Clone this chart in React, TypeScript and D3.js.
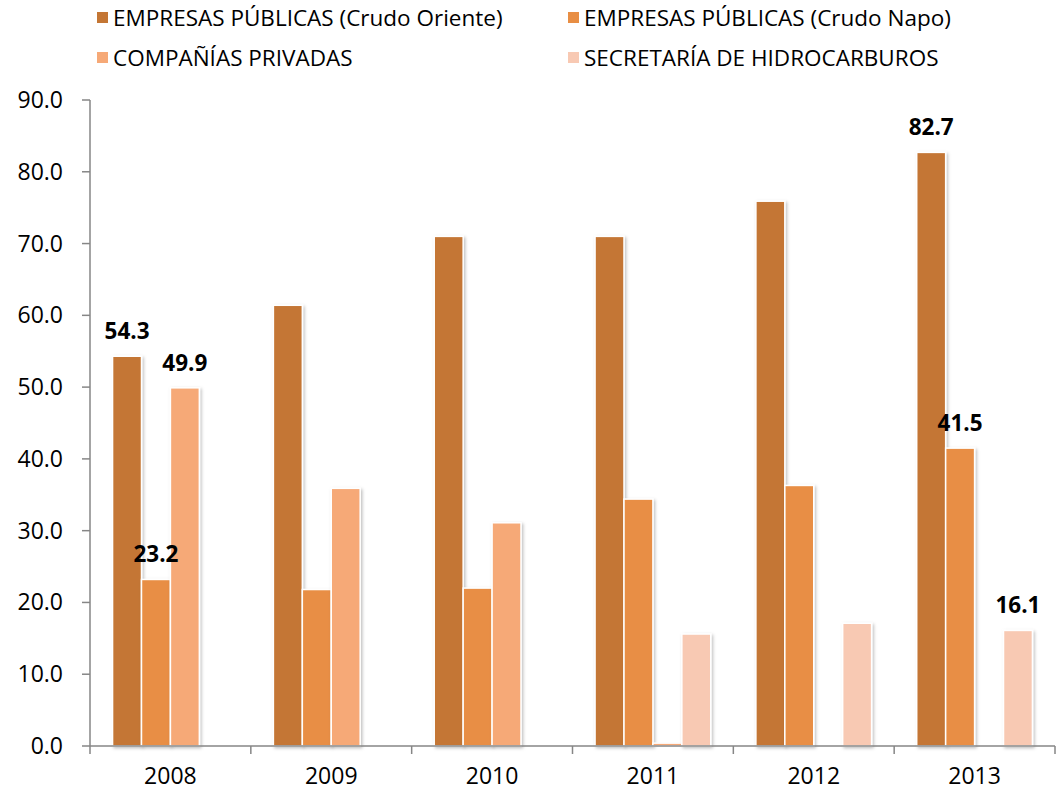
import React from "react";
import * as d3 from "d3";

const years = ["2008", "2009", "2010", "2011", "2012", "2013"];
const seriesNames = [
  "EMPRESAS PÚBLICAS (Crudo Oriente)",
  "EMPRESAS PÚBLICAS (Crudo Napo)",
  "COMPAÑÍAS PRIVADAS",
  "SECRETARÍA DE HIDROCARBUROS",
];
const crudoOriente = [54.3, 61.4, 71.0, 71.0, 75.9, 82.7];
const crudoNapo = [23.2, 21.8, 22.0, 34.4, 36.3, 41.5];
const privadas = [49.9, 35.9, 31.1, 0.4, 0, 0];
const secretaria = [0, 0, 0, 15.6, 17.1, 16.1];
const colors = ["#C47634", "#E88E44", "#F6A977", "#F8C9B3"];
const yTicks = [0, 10, 20, 30, 40, 50, 60, 70, 80, 90];
// labels shown: [seriesIndex, yearIndex]
const labeled: [number, number][] = [
  [0, 0], [1, 0], [2, 0], [0, 5], [1, 5], [3, 5],
];

const FONT = "'Open Sans', sans-serif";

export default function App() {
  const W = 1061, H = 791;
  const x0 = 90, x1 = 1055, yTop = 100, yBot = 746;
  const series = [crudoOriente, crudoNapo, privadas, secretaria];
  const x = d3.scaleBand<string>().domain(years).range([x0, x1]).paddingInner(0).paddingOuter(0);
  const xs = d3.scaleBand<number>().domain([0, 1, 2, 3]).range([0, x.bandwidth()]).paddingInner(0).paddingOuter(0.78);
  const y = d3.scaleLinear().domain([0, 90]).range([yBot, yTop]);

  const legendPos = [
    { x: 97, y: 18 },
    { x: 568, y: 18 },
    { x: 97, y: 58 },
    { x: 568, y: 58 },
  ];

  return (
    <svg width={W} height={H} style={{ position: "absolute", left: 0, top: 0, background: "#fff" }}>
      <defs>
        <filter id="sh" x="-30%" y="-5%" width="160%" height="110%">
          <feDropShadow dx="1.5" dy="1.5" stdDeviation="1.5" floodColor="#000" floodOpacity="0.25" />
        </filter>
      </defs>
      {/* legend */}
      {seriesNames.map((n, i) => (
        <g key={n}>
          <rect x={legendPos[i].x} y={legendPos[i].y - 6} width={11} height={11} fill={colors[i]} />
          <text x={legendPos[i].x + 16} y={legendPos[i].y} dy="0.35em" fontFamily={FONT} fontSize={22.5} fill="#000">
            {n}
          </text>
        </g>
      ))}
      {/* bars */}
      {series.map((vals, si) =>
        vals.map((v, yi) =>
          v > 0 ? (
            <rect
              key={`${si}-${yi}`}
              x={(x(years[yi]) as number) + (xs(si) as number)}
              y={y(v)}
              width={xs.bandwidth()}
              height={yBot - y(v)}
              fill={colors[si]}
              stroke="#fff"
              strokeWidth={1.5}
              filter="url(#sh)"
            />
          ) : null
        )
      )}
      {/* axes */}
      <line x1={x0} x2={x0} y1={yTop} y2={yBot} stroke="#868686" strokeWidth={1.5} />
      <line x1={x0} x2={x1} y1={yBot} y2={yBot} stroke="#868686" strokeWidth={1.5} />
      {yTicks.map((t) => (
        <g key={t}>
          <line x1={x0 - 8} x2={x0} y1={y(t)} y2={y(t)} stroke="#868686" strokeWidth={1.5} />
          <text x={63} y={y(t)} dy="0.35em" textAnchor="end" fontFamily={FONT} fontSize={23} fill="#000">
            {t.toFixed(1)}
          </text>
        </g>
      ))}
      {[...years.map((yr) => x(yr) as number), x1].map((px, i) => (
        <line key={i} x1={px} x2={px} y1={yBot} y2={yBot + 8} stroke="#868686" strokeWidth={1.5} />
      ))}
      {years.map((yr) => (
        <text key={yr} x={(x(yr) as number) + x.bandwidth() / 2} y={776} dy="0.35em" textAnchor="middle" fontFamily={FONT} fontSize={23} fill="#000">
          {yr}
        </text>
      ))}
      {/* data labels */}
      {labeled.map(([si, yi]) => {
        const v = series[si][yi];
        return (
          <text
            key={`l${si}-${yi}`}
            x={(x(years[yi]) as number) + (xs(si) as number) + xs.bandwidth() / 2}
            y={y(v) - 17}
            textAnchor="middle"
            fontFamily={FONT}
            fontWeight="bold"
            fontSize={22.5}
            fill="#000"
          >
            {v.toFixed(1)}
          </text>
        );
      })}
    </svg>
  );
}
